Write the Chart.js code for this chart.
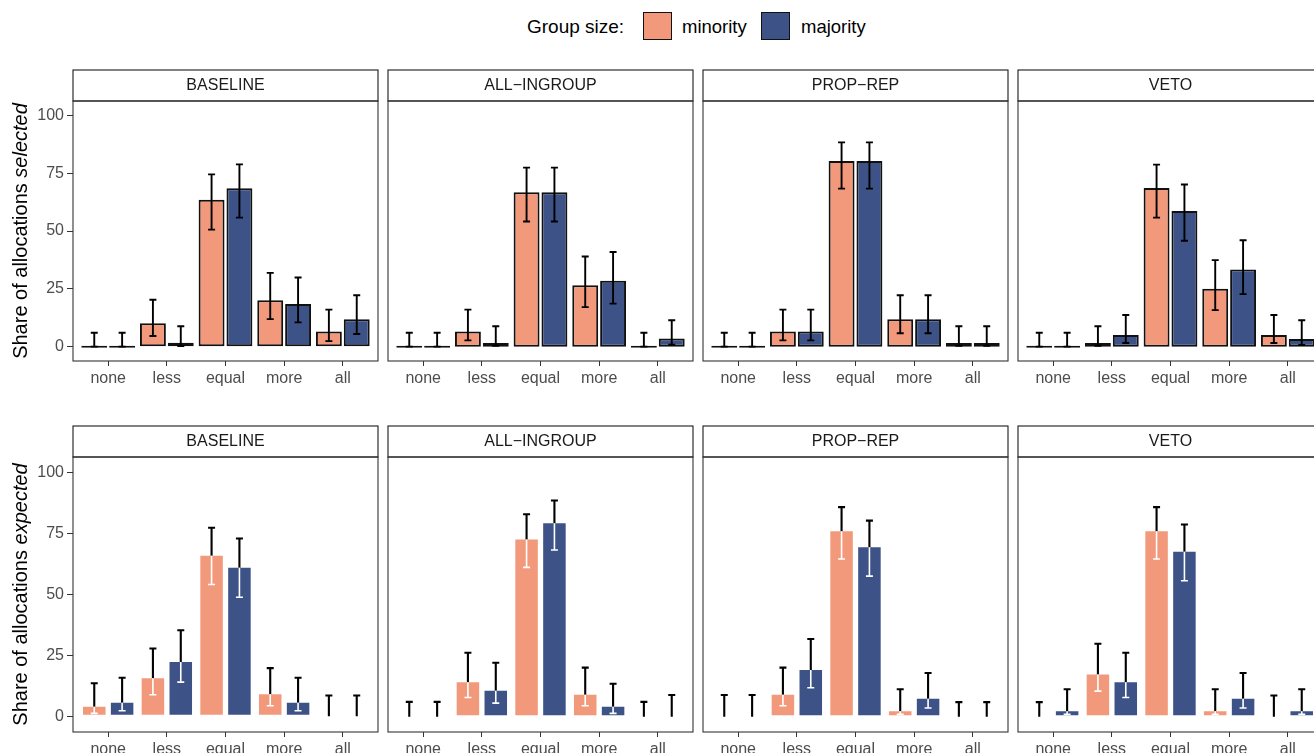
<!DOCTYPE html>
<html>
<head>
<meta charset="utf-8">
<script src="https://cdn.jsdelivr.net/npm/chart.js@4/dist/chart.umd.min.js"></script>
<style>
  html, body { margin: 0; padding: 0; background: #fff; overflow: hidden; width: 1314px; height: 753px; }
  body { position: relative; font-family: 'Liberation Sans', Arial, sans-serif; }
  canvas { position: absolute; }
  .lg { position: absolute; line-height: 1; white-space: nowrap; color: #000; }
  .box { position: absolute; box-sizing: border-box; border: 1.5px solid #111; width: 29px; height: 28px; }
</style>
</head>
<body>
<script>
// カテゴリ・パネル・凡例
const categories = ['none', 'less', 'equal', 'more', 'all'];
const panels = ['BASELINE', 'ALL\u2212INGROUP', 'PROP\u2212REP', 'VETO'];
const groups = ['minority', 'majority'];
const yTicks = [0, 25, 50, 75, 100];

// 上段: selected（パネルごとに1行, 値 / 下限 / 上限）
const selMinority = [
  [0, 10.1, 63.5, 20.1, 6.6],
  [0, 6.6, 66.8, 26.6, 0],
  [0, 6.6, 80.3, 11.8, 1.6],
  [0, 1.6, 68.6, 25.0, 5.0],
];
const selMinorityLow = [
  [0, 4.6, 50.6, 11.9, 2.4],
  [0, 2.7, 54.1, 17.1, 0],
  [0, 2.7, 68.3, 5.8, 0.4],
  [0, 0.4, 55.8, 15.8, 1.6],
];
const selMinorityHigh = [
  [6.0, 20.3, 74.5, 31.9, 16.0],
  [6.0, 16.0, 77.4, 39.0, 6.0],
  [6.0, 16.0, 88.3, 22.2, 8.8],
  [6.0, 8.8, 78.7, 37.4, 13.7],
];
const selMajority = [
  [0, 1.7, 68.5, 18.4, 11.8],
  [0, 1.6, 66.8, 28.5, 3.5],
  [0, 6.6, 80.3, 11.8, 1.6],
  [0, 5.0, 58.6, 33.4, 3.3],
];
const selMajorityLow = [
  [0, 0.3, 55.8, 10.5, 5.5],
  [0, 0.4, 54.1, 18.6, 0.9],
  [0, 2.7, 68.3, 5.8, 0.4],
  [0, 1.6, 45.8, 22.7, 0.7],
];
const selMajorityHigh = [
  [6.0, 8.8, 78.8, 29.9, 22.2],
  [6.0, 8.8, 77.4, 40.9, 11.4],
  [6.0, 16.0, 88.3, 22.2, 8.8],
  [6.0, 13.7, 70.1, 46.0, 11.4],
];

// 下段: expected
const expMinority = [
  [4.8, 16.5, 66.5, 9.9, 0.4],
  [0, 14.8, 73.2, 9.7, 0],
  [0.4, 9.7, 76.5, 3.0, 0],
  [0, 18.0, 76.5, 3.0, 0.4],
];
const expMinorityLow = [
  [1.4, 9.0, 54.1, 4.5, 0],
  [0, 7.9, 61.1, 4.5, 0],
  [0, 4.5, 64.5, 1.0, 0],
  [0, 10.5, 64.5, 1.0, 0],
];
const expMinorityHigh = [
  [13.7, 27.9, 77.3, 19.9, 8.7],
  [6.1, 26.2, 82.8, 20.1, 6.1],
  [8.9, 20.1, 85.7, 11.3, 6.0],
  [6.0, 29.9, 85.7, 11.3, 8.7],
];
const expMajority = [
  [6.4, 23.1, 61.6, 6.4, 0.4],
  [0, 11.4, 79.8, 4.8, 0.4],
  [0.4, 19.8, 70.0, 8.1, 0],
  [3.0, 14.8, 68.2, 8.1, 3.0],
];
const expMajorityLow = [
  [2.5, 14.2, 48.9, 2.5, 0],
  [0, 5.6, 68.2, 1.4, 0],
  [0, 11.9, 57.5, 3.6, 0],
  [1.0, 7.9, 55.6, 3.6, 1.0],
];
const expMajorityHigh = [
  [16.0, 35.4, 72.9, 16.0, 8.7],
  [6.1, 22.1, 88.4, 13.5, 8.9],
  [8.9, 31.8, 80.2, 17.9, 6.0],
  [11.3, 26.2, 78.6, 17.9, 11.3],
];

const COLORS = ['#F2997B', '#3D5286'];
const FONT = "'Liberation Sans', Arial, sans-serif";
Chart.defaults.font.family = FONT;

// レイアウト（px）
const COL_LEFT = [73, 388, 703, 1018];
const PLOT_W = 305;
const STRIP_H = 31;
const X_AXIS_H = 30;
const ROWS = [
  {
    top: 101, height: 260, word: 'selected',
    values: [selMinority, selMajority],
    low: [selMinorityLow, selMajorityLow],
    high: [selMinorityHigh, selMajorityHigh],
    edge: '#111', edgeWidth: 2, minBar: 2, inner: false,
  },
  {
    top: 457, height: 275, word: 'expected',
    values: [expMinority, expMajority],
    low: [expMinorityLow, expMajorityLow],
    high: [expMinorityHigh, expMajorityHigh],
    edge: '#fff', edgeWidth: 1.7, minBar: 0, inner: true,
  },
];

// 凡例
(function legend() {
  const add = (cls, style, text) => {
    const el = document.createElement('div');
    el.className = cls;
    Object.assign(el.style, style);
    if (text) el.textContent = text;
    document.body.appendChild(el);
  };
  add('lg', { left: '527px', top: '17px', fontSize: '19px' }, 'Group size:');
  const boxX = [643, 761], textX = [682, 801];
  groups.forEach((g, i) => {
    add('box', { left: boxX[i] + 'px', top: '11.5px', background: COLORS[i] });
    add('lg', { left: textX[i] + 'px', top: '18px', fontSize: '18.5px' }, g);
  });
})();

// エラーバー（上段は黒、下段は棒の内側を白）
const errorBars = {
  id: 'errorBars',
  afterDatasetsDraw(chart, args, opts) {
    const { ctx } = chart;
    const y = chart.scales.y;
    const cap = 3.5;
    ctx.save();
    ctx.lineCap = 'butt';
    chart.data.datasets.forEach((ds, d) => {
      chart.getDatasetMeta(d).data.forEach((bar, i) => {
        const x = bar.x;
        const yHi = y.getPixelForValue(ds.errHigh[i]);
        const yLo = y.getPixelForValue(ds.errLow[i]);
        if (!opts.inner) {
          ctx.strokeStyle = '#000';
          ctx.lineWidth = 1.9;
          ctx.beginPath();
          ctx.moveTo(x, yHi); ctx.lineTo(x, yLo);
          ctx.moveTo(x - cap, yHi); ctx.lineTo(x + cap, yHi);
          ctx.moveTo(x - cap, yLo); ctx.lineTo(x + cap, yLo);
          ctx.stroke();
          return;
        }
        const yVis = Math.min(bar.y + opts.edge, bar.base);
        ctx.strokeStyle = '#000';
        ctx.lineWidth = 2.1;
        ctx.beginPath();
        ctx.moveTo(x, yHi); ctx.lineTo(x, yVis);
        ctx.moveTo(x - cap, yHi); ctx.lineTo(x + cap, yHi);
        ctx.stroke();
        if (yLo - yVis > 0.5) {
          ctx.strokeStyle = '#fff';
          ctx.lineWidth = 1.6;
          ctx.beginPath();
          ctx.moveTo(x, yVis); ctx.lineTo(x, yLo);
          ctx.moveTo(x - cap, yLo); ctx.lineTo(x + cap, yLo);
          ctx.stroke();
        }
      });
    });
    ctx.restore();
  },
};

// ストリップ・枠線・y軸タイトル
const facet = {
  id: 'facet',
  afterDraw(chart, args, opts) {
    const { ctx, chartArea: a } = chart;
    ctx.save();
    ctx.fillStyle = '#fff';
    ctx.fillRect(a.left, a.top - STRIP_H, a.width, STRIP_H);
    ctx.strokeStyle = '#1a1a1a';
    ctx.lineWidth = 1.1;
    ctx.strokeRect(a.left, a.top - STRIP_H, a.width, STRIP_H);
    ctx.fillStyle = '#1a1a1a';
    ctx.font = `16px ${FONT}`;
    ctx.textAlign = 'center';
    ctx.textBaseline = 'middle';
    ctx.fillText(opts.strip, (a.left + a.right) / 2, a.top - STRIP_H / 2 + 0.5);

    ctx.strokeStyle = '#333';
    ctx.lineWidth = 1.1;
    ctx.strokeRect(a.left, a.top, a.width, a.height);

    if (opts.yTitle) {
      const plain = 'Share of allocations ';
      const fontN = `20px ${FONT}`, fontI = `italic 20px ${FONT}`;
      ctx.font = fontN;
      const w1 = ctx.measureText(plain).width;
      ctx.font = fontI;
      const w2 = ctx.measureText(opts.yTitle).width;
      ctx.translate(21, (a.top + a.bottom) / 2);
      ctx.rotate(-Math.PI / 2);
      ctx.fillStyle = '#000';
      ctx.textAlign = 'left';
      ctx.font = fontN;
      ctx.fillText(plain, -(w1 + w2) / 2, 0);
      ctx.font = fontI;
      ctx.fillText(opts.yTitle, -(w1 + w2) / 2 + w1, 0);
    }
    ctx.restore();
  },
};

function makePanel(row, col) {
  const left = COL_LEFT[col];
  const canvasLeft = col === 0 ? 0 : left - 2;
  const canvasTop = row.top - STRIP_H - 2;
  const canvas = document.createElement('canvas');
  canvas.width = left - canvasLeft + PLOT_W + 2;
  canvas.height = STRIP_H + 2 + row.height + X_AXIS_H;
  canvas.style.left = canvasLeft + 'px';
  canvas.style.top = canvasTop + 'px';
  document.body.appendChild(canvas);

  const datasets = groups.map((g, k) => ({
    label: g,
    data: row.values[k][col].map((v, i) => ({ x: i, y: v })),
    errLow: row.low[k][col],
    errHigh: row.high[k][col],
    backgroundColor: COLORS[k],
    borderColor: row.edge,
    borderWidth: row.edgeWidth,
    borderSkipped: false,
    minBarLength: row.minBar,
    categoryPercentage: 0.95,
    barPercentage: 0.93,
  }));

  new Chart(canvas.getContext('2d'), {
    type: 'bar',
    data: { datasets },
    options: {
      responsive: false,
      animation: false,
      events: [],
      layout: { padding: { left: col === 0 ? 0 : 2, right: 2, top: STRIP_H + 2, bottom: 0 } },
      plugins: {
        legend: { display: false },
        tooltip: { enabled: false },
        facet: { strip: panels[col], yTitle: col === 0 ? row.word : null },
        errorBars: { inner: row.inner, edge: row.edgeWidth },
      },
      scales: {
        x: {
          type: 'linear',
          offset: false,
          min: -0.6,
          max: 4.6,
          afterBuildTicks: ax => { ax.ticks = categories.map((_, i) => ({ value: i })); },
          afterFit: ax => { ax.height = X_AXIS_H; },
          border: { display: false },
          grid: { offset: false, drawOnChartArea: false, drawTicks: true, tickLength: 5, color: '#333', tickColor: '#333' },
          ticks: {
            callback: v => categories[v],
            color: '#4d4d4d',
            font: { size: 16 },
            padding: 3,
            maxRotation: 0,
            autoSkip: false,
          },
        },
        y: {
          display: col === 0,
          min: -6.2,
          max: 106.2,
          afterBuildTicks: ax => { ax.ticks = yTicks.map(v => ({ value: v })); },
          afterFit: ax => { ax.width = col === 0 ? left : 0; },
          border: { display: false },
          grid: { drawOnChartArea: false, drawTicks: true, tickLength: 6, color: '#333', tickColor: '#333' },
          ticks: { color: '#4d4d4d', font: { size: 16 }, padding: 3, callback: v => v },
        },
      },
    },
    plugins: [errorBars, facet],
  });
}

ROWS.forEach(row => COL_LEFT.forEach((_, col) => makePanel(row, col)));
</script>
</body>
</html>
